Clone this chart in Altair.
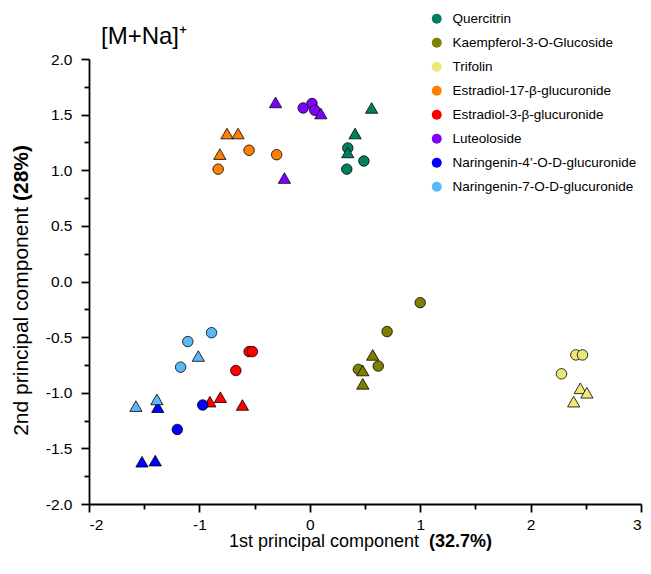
import altair as alt
import pandas as pd

compounds = [
    "Quercitrin",
    "Kaempferol-3-O-Glucoside",
    "Trifolin",
    "Estradiol-17-β-glucuronide",
    "Estradiol-3-β-glucuronide",
    "Luteoloside",
    "Naringenin-4’-O-D-glucuronide",
    "Naringenin-7-O-D-glucuronide",
]
colors = ["#008060", "#808000", "#EEE878", "#FF8000", "#FF0000", "#8000FF", "#0000FF", "#5BB8F5"]

point_compound = (
    ["Quercitrin"] * 6
    + ["Kaempferol-3-O-Glucoside"] * 7
    + ["Trifolin"] * 6
    + ["Estradiol-17-β-glucuronide"] * 6
    + ["Estradiol-3-β-glucuronide"] * 6
    + ["Luteoloside"] * 6
    + ["Naringenin-4’-O-D-glucuronide"] * 5
    + ["Naringenin-7-O-D-glucuronide"] * 6
)
point_marker = (
    ["circle", "circle", "circle", "triangle", "triangle", "triangle"]
    + ["circle", "circle", "circle", "circle", "triangle", "triangle", "triangle"]
    + ["circle", "circle", "circle", "triangle", "triangle", "triangle"]
    + ["triangle", "triangle", "triangle", "circle", "circle", "circle"]
    + ["circle", "circle", "circle", "triangle", "triangle", "triangle"]
    + ["triangle", "circle", "circle", "circle", "triangle", "triangle"]
    + ["triangle", "circle", "circle", "triangle", "triangle"]
    + ["circle", "circle", "circle", "triangle", "triangle", "triangle"]
)
pc1 = (
    [0.344, 0.49, 0.335, 0.56, 0.41, 0.344]
    + [1.0, 0.70, 0.44, 0.62, 0.57, 0.48, 0.48]
    + [2.41, 2.47, 2.28, 2.45, 2.51, 2.39]
    + [-0.75, -0.65, -0.815, -0.55, -0.30, -0.83]
    + [-0.55, -0.52, -0.67, -0.905, -0.81, -0.61]
    + [-0.31, -0.06, 0.02, 0.045, 0.10, -0.23]
    + [-1.377, -0.97, -1.20, -1.52, -1.40]
    + [-0.89, -1.105, -1.17, -1.01, -1.575, -1.385]
)
pc2 = (
    [1.20, 1.083, 1.01, 1.56, 1.33, 1.16]
    + [-0.19, -0.45, -0.79, -0.76, -0.66, -0.80, -0.92]
    + [-0.66, -0.66, -0.83, -0.96, -1.00, -1.08]
    + [1.33, 1.33, 1.145, 1.18, 1.14, 1.01]
    + [-0.63, -0.63, -0.80, -1.08, -1.04, -1.11]
    + [1.61, 1.56, 1.60, 1.54, 1.51, 0.93]
    + [-1.13, -1.11, -1.33, -1.62, -1.61]
    + [-0.46, -0.54, -0.77, -0.67, -1.12, -1.06]
)

x_major = [-2, -1, 0, 1, 2, 3]
x_minor = [-1.5, -0.5, 0.5, 1.5, 2.5]
y_major = [-2.0, -1.5, -1.0, -0.5, 0.0, 0.5, 1.0, 1.5, 2.0]
y_minor = [-1.75, -1.25, -0.75, -0.25, 0.25, 0.75, 1.25, 1.75]

title_text = "[M+Na]⁺"
x_title_normal = "1st principal component"
x_title_bold = "(32.7%)"
y_title_normal = "2nd principal component"
y_title_bold = "(28%)"

df = pd.DataFrame({"compound": point_compound, "marker": point_marker, "pc1": pc1, "pc2": pc2})

FONT = "Liberation Sans"
W, H = 552, 445

xscale = alt.Scale(domain=[-2, 3], nice=False, zero=False)
yscale = alt.Scale(domain=[-2, 2], nice=False, zero=False)

ylabel = "datum.value < 0 ? '-' + format(-datum.value, '.1f') : format(datum.value, '.1f')"
xlabel = "datum.value < 0 ? '-' + format(-datum.value, 'd') : format(datum.value, 'd')"

points = alt.Chart(df).mark_point(
    filled=True, stroke="black", strokeWidth=0.8, opacity=1
).encode(
    x=alt.X("pc1:Q", scale=xscale, axis=alt.Axis(
        values=x_major, title=None, grid=False, tickSize=8, tickWidth=1.8, domainWidth=1.8,
        domainColor="black", tickColor="black", labelFontSize=15.5, labelColor="black",
        labelFont=FONT, labelPadding=5, labelExpr=xlabel, orient="bottom")),
    y=alt.Y("pc2:Q", scale=yscale, axis=alt.Axis(
        values=y_major, title=None, grid=False, tickSize=8, tickWidth=1.8, domainWidth=1.8,
        domainColor="black", tickColor="black", labelFontSize=15.5, labelColor="black",
        labelFont=FONT, labelPadding=9, labelExpr=ylabel, orient="left")),
    color=alt.Color("compound:N", scale=alt.Scale(domain=compounds, range=colors),
                    legend=alt.Legend(
                        title=None, orient="none", legendX=341, legendY=-47,
                        symbolType="circle", symbolSize=100, symbolStrokeWidth=0,
                        symbolOpacity=1, labelFont=FONT, labelFontSize=13.5,
                        labelColor="black", rowPadding=9, labelOffset=9, padding=0,
                        labelLimit=400)),
    shape=alt.Shape("marker:N", scale=alt.Scale(domain=["circle", "triangle"],
                                                range=["circle", "triangle-up"]), legend=None),
    size=alt.Size("marker:N", scale=alt.Scale(domain=["circle", "triangle"],
                                              range=[110, 150]), legend=None),
)

minor = alt.Chart(df).mark_point(opacity=0).encode(
    x=alt.X("pc1:Q", scale=xscale, axis=alt.Axis(
        values=x_minor, title=None, grid=False, labels=False, domain=False, tickSize=5,
        tickWidth=1.8, tickColor="black", orient="bottom")),
    y=alt.Y("pc2:Q", scale=yscale, axis=alt.Axis(
        values=y_minor, title=None, grid=False, labels=False, domain=False, tickSize=5,
        tickWidth=1.8, tickColor="black", orient="left")),
)

title = alt.Chart(pd.DataFrame({"t": [title_text]})).mark_text(
    font=FONT, fontSize=24, align="left", baseline="alphabetic", color="black"
).encode(text="t:N", x=alt.value(12), y=alt.value(-15))

xt1 = alt.Chart(pd.DataFrame({"t": [x_title_normal]})).mark_text(
    font=FONT, fontSize=18, align="right", baseline="middle", color="black"
).encode(text="t:N", x=alt.value(330), y=alt.value(H + 38))
xt2 = alt.Chart(pd.DataFrame({"t": [x_title_bold]})).mark_text(
    font=FONT, fontSize=18, fontWeight="bold", align="left", baseline="middle", color="black"
).encode(text="t:N", x=alt.value(340), y=alt.value(H + 38))

yt1 = alt.Chart(pd.DataFrame({"t": [y_title_normal]})).mark_text(
    font=FONT, fontSize=21, align="right", baseline="middle", color="black", angle=270
).encode(text="t:N", x=alt.value(-67), y=alt.value(148))
yt2 = alt.Chart(pd.DataFrame({"t": [y_title_bold]})).mark_text(
    font=FONT, fontSize=21, fontWeight="bold", align="left", baseline="middle", color="black", angle=270
).encode(text="t:N", x=alt.value(-67), y=alt.value(142))

chart = alt.layer(minor, points, title, xt1, xt2, yt1, yt2).resolve_axis(
    x="independent", y="independent"
).properties(
    width=W, height=H,
    autosize=alt.AutoSizeParams(type="none"),
    padding={"left": 81, "top": 51, "right": 2, "bottom": 50},
).configure_view(strokeWidth=0)

chart.save("out.html", embed_options={"renderer": "svg", "actions": False})
